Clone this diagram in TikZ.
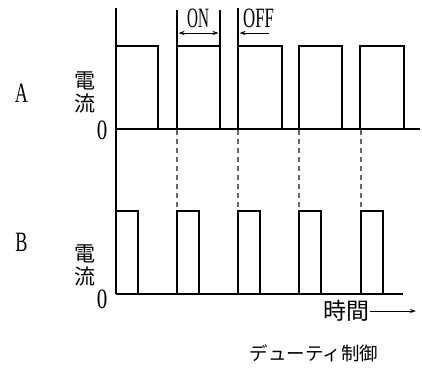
\documentclass[tikz,border=0pt]{standalone}
\usepackage{fontspec}
\newfontfamily\cjk{Noto Sans CJK JP}
\newfontfamily\latf{Liberation Serif}
\usetikzlibrary{arrows.meta}
\begin{document}
\begin{tikzpicture}[x=1pt,y=-1pt,
  wave/.style={line width=1.3pt, line join=miter},
  axis/.style={line width=1.3pt},
  guide/.style={line width=1.1pt},
  dashguide/.style={line width=1.2pt, gray!80!black, dash pattern=on 5pt off 4pt},
  lat/.style={inner sep=0pt, font=\latf\fontsize{28}{28}\selectfont},
  cj/.style={inner sep=0pt, font=\cjk\fontsize{21}{23}\selectfont, align=center},
  tip/.style={-{Stealth[length=6pt,width=4pt]}, line width=0.9pt}]
\useasboundingbox (0,0) rectangle (422,367);
% axes
\coordinate (ytop) at (116,8);
\coordinate (ybot) at (116,294);
\coordinate (ax0) at (116,129);
\coordinate (ax1) at (420,129);
\coordinate (bx1) at (403,294);
\draw[axis] (ytop) -- (ybot);
\draw[axis] (ax0) -- (ax1);
\draw[axis] (ybot) -- (bx1);
% A pulses
\draw[wave] (116,46) -- (158,46) -- (158,129);
\draw[wave] (177,129) -- (177,46) -- (220,46) -- (220,129);
\draw[wave] (238,129) -- (238,46) -- (282,46) -- (282,129);
\draw[wave] (299,129) -- (299,46) -- (342,46) -- (342,129);
\draw[wave] (360,129) -- (360,46) -- (404,46) -- (404,129);
% B pulses
\draw[wave] (116,211) -- (138,211) -- (138,294);
\draw[wave] (177,294) -- (177,211) -- (199,211) -- (199,294);
\draw[wave] (238,294) -- (238,211) -- (260,211) -- (260,294);
\draw[wave] (299,294) -- (299,211) -- (321,211) -- (321,294);
\draw[wave] (361,294) -- (361,211) -- (383,211) -- (383,294);
% dashed guides
\foreach \x in {177,238,299,361} \draw[dashguide] (\x,130) -- (\x,210);
% ON / OFF markers
\draw[guide] (177,10) -- (177,46);
\draw[guide] (220,10) -- (220,46);
\draw[guide] (238,8) -- (238,46);
\coordinate (on1) at (178.5,33);
\coordinate (on2) at (218.5,33);
\draw[tip, {Stealth[length=6pt,width=4pt]}-{Stealth[length=6pt,width=4pt]}] (on1) -- (on2);
\coordinate (off1) at (269,33);
\coordinate (off2) at (239.5,33);
\draw[tip] (off1) -- (off2);
\node[lat] (on) at (198,18.5) {\scalebox{0.54}[1]{ON}};
\node[lat, anchor=west] (off) at (243,18.5) {\scalebox{0.6}[1]{OFF}};
% labels
\node[lat] (labA) at (21.5,93.5) {\scalebox{0.65}[1]{A}};
\node[lat] (labB) at (21.5,242) {\scalebox{0.65}[1]{B}};
\node[cj] (curA) at (85,92) {電\\流};
\node[cj] (curB) at (85,265) {電\\流};
\node[lat] (zeroA) at (102,130) {\scalebox{0.75}[1]{0}};
\node[lat] (zeroB) at (102,299) {\scalebox{0.75}[1]{0}};
\node[cj, font=\cjk\fontsize{23}{23}\selectfont] (time) at (346,311) {時間};
\coordinate (tarr) at (416,311);
\draw[tip] (time.east) ++(1,0) -- (tarr);
\node[cj, font=\cjk\fontsize{18.5}{19}\selectfont] (cap) at (314,353) {デューティ制御};
\end{tikzpicture}
\end{document}
